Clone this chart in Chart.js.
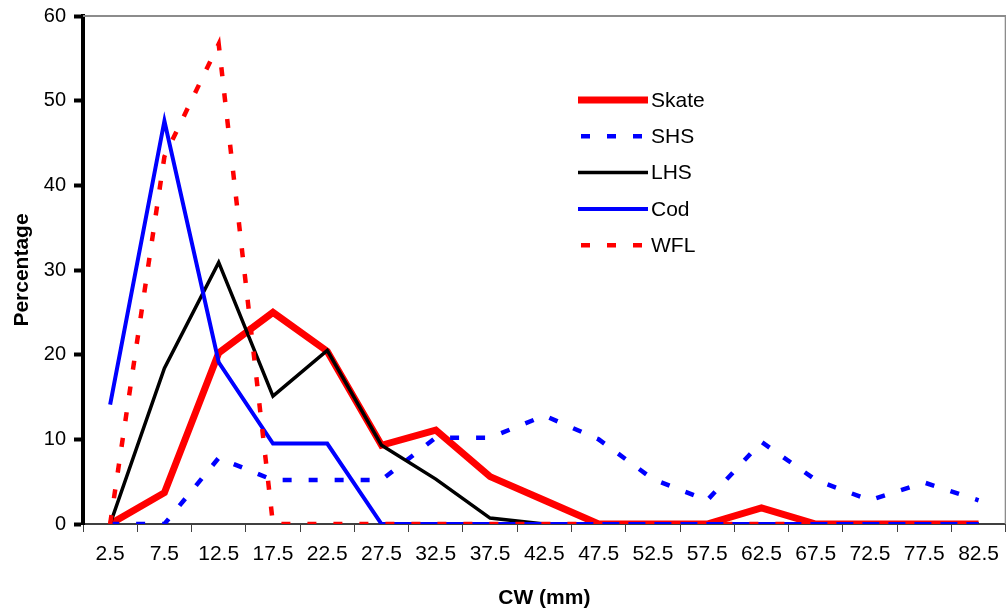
<!DOCTYPE html>
<html>
<head>
<meta charset="utf-8">
<script src="https://cdn.jsdelivr.net/npm/chart.js@4"></script>
<style>
  html, body { margin: 0; background: #fff; overflow: hidden; }
  #cwChart { position: absolute; left: 0; top: -4px; }
</style>
</head>
<body>
<canvas id="cwChart" width="1009" height="615"></canvas>
<script>
const cwLabels = ['2.5', '7.5', '12.5', '17.5', '22.5', '27.5', '32.5', '37.5', '42.5',
    '47.5', '52.5', '57.5', '62.5', '67.5', '72.5', '77.5', '82.5'];

const skate = [0, 3.7, 20.2, 25, 20.4, 9.3, 11.1, 5.6, 2.8, 0, 0, 0, 1.9, 0, 0, 0, 0];
const shs = [0, 0, 7.8, 5.2, 5.2, 5.2, 10.2, 10.2, 12.8, 10.0, 5.3, 2.8, 9.7, 5.2, 2.8, 4.9, 2.8];
const lhs = [0, 18.4, 30.9, 15.1, 20.5, 9.3, 5.3, 0.7, 0, 0, 0, 0, 0, 0, 0, 0, 0];
const cod = [14.1, 47.6, 19.1, 9.5, 9.5, 0, 0, 0, 0, 0, 0, 0, 0, 0, 0, 0, 0];
const wfl = [0, 43.4, 56.7, 0, 0, 0, 0, 0, 0, 0, 0, 0, 0, 0, 0, 0, 0];

const yTicks = [0, 10, 20, 30, 40, 50, 60];

const fontFamily = 'Arial, "Liberation Sans", sans-serif';
const dashPattern = [9, 17];

// grey frame on top/right of the plot, and the legend sitting inside the plot
const frameAndLegend = {
    id: 'frameAndLegend',
    beforeDatasetsDraw(chart) {
        const {ctx, chartArea} = chart;
        ctx.save();
        ctx.strokeStyle = '#8c8c8c';
        ctx.lineWidth = 2;
        ctx.beginPath();
        ctx.moveTo(chartArea.left, chartArea.top);
        ctx.lineTo(chartArea.right, chartArea.top);
        ctx.lineTo(chartArea.right, chartArea.bottom);
        ctx.stroke();
        ctx.restore();
    },
    afterDraw(chart) {
        const ctx = chart.ctx;
        ctx.save();
        ctx.font = '21px ' + fontFamily;
        ctx.textBaseline = 'middle';
        ctx.textAlign = 'left';
        chart.data.datasets.forEach((ds, i) => {
            const y = 104 + i * 36.3;
            ctx.strokeStyle = ds.borderColor;
            ctx.lineWidth = ds.borderWidth;
            ctx.setLineDash(ds.borderDash || []);
            ctx.beginPath();
            if (ds.borderDash) {
                ctx.moveTo(581, y);
                ctx.lineTo(644, y);
            } else {
                ctx.moveTo(578, y);
                ctx.lineTo(648, y);
            }
            ctx.stroke();
            ctx.setLineDash([]);
            ctx.fillStyle = '#000';
            ctx.fillText(ds.label, 651, y + 1);
        });
        ctx.restore();
    }
};

const lineData = {
    labels: cwLabels,
    datasets: [
        { label: 'Skate', data: skate, borderColor: '#ff0000', borderWidth: 7, order: 4 },
        { label: 'SHS', data: shs, borderColor: '#0000ff', borderWidth: 4.5, borderDash: dashPattern, order: 3 },
        { label: 'LHS', data: lhs, borderColor: '#000000', borderWidth: 3.5, order: 2 },
        { label: 'Cod', data: cod, borderColor: '#0000ff', borderWidth: 4, order: 1 },
        { label: 'WFL', data: wfl, borderColor: '#ff0000', borderWidth: 4.5, borderDash: dashPattern, order: 0 }
    ]
};

const lineConfig = {
    type: 'line',
    data: lineData,
    options: {
        responsive: false,
        animation: false,
        layout: { padding: { top: 11, right: 0, left: 0, bottom: 0 } },
        elements: {
            point: { radius: 0 },
            line: { tension: 0, fill: false, borderCapStyle: 'butt' }
        },
        plugins: {
            legend: { display: false },
            tooltip: { enabled: false }
        },
        scales: {
            x: {
                offset: true,
                grid: {
                    drawOnChartArea: false,
                    offset: true,
                    tickLength: 8,
                    tickColor: '#404040',
                    tickWidth: 1
                },
                border: { color: '#404040', width: 2 },
                ticks: {
                    color: '#000',
                    font: { size: 21, family: fontFamily },
                    padding: 10,
                    maxRotation: 0,
                    autoSkip: false
                },
                title: {
                    display: true,
                    text: 'CW (mm)',
                    color: '#000',
                    font: { size: 21, weight: 'bold', family: fontFamily },
                    padding: { top: 0, bottom: 0 }
                },
                afterFit(scale) { scale.height = 87; }
            },
            y: {
                min: yTicks[0],
                max: yTicks[yTicks.length - 1],
                afterBuildTicks(scale) { scale.ticks = yTicks.map(v => ({ value: v })); },
                grid: {
                    drawOnChartArea: false,
                    tickLength: 9,
                    tickColor: '#000',
                    tickWidth: 4
                },
                border: { color: '#000', width: 4 },
                ticks: {
                    color: '#000',
                    font: { size: 20, family: fontFamily },
                    padding: 8
                },
                title: {
                    display: true,
                    text: 'Percentage',
                    color: '#000',
                    font: { size: 21, weight: 'bold', family: fontFamily },
                    padding: { top: 10, bottom: 0 }
                },
                afterFit(scale) { scale.width = 83; }
            }
        }
    },
    plugins: [frameAndLegend]
};

const cwChart = new Chart(document.getElementById('cwChart'), lineConfig);
</script>
</body>
</html>
